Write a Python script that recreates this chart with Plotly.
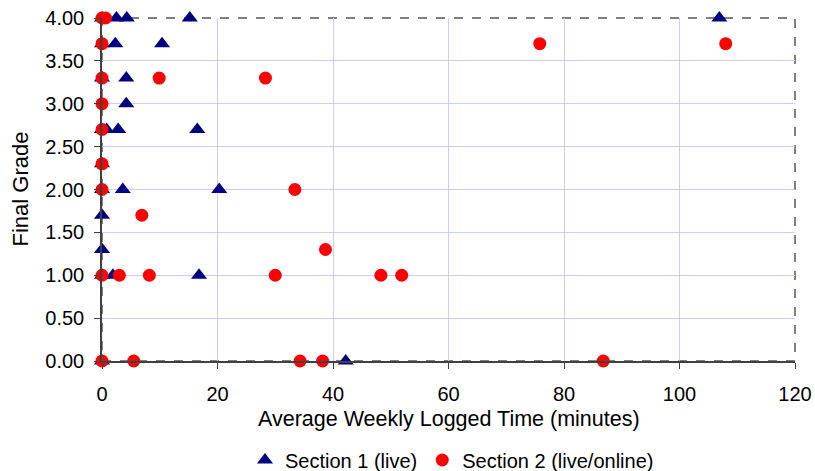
import plotly.graph_objects as go

# Section 1 (live)
s1_time = [0, 2.5, 4.3, 15.2, 106.9,
           0, 2.3, 10.4,
           0, 4.2,
           4.2,
           0, 0.8, 2.8, 16.5,
           0,
           0, 3.6, 20.3,
           0,
           0,
           0, 1.9, 16.8,
           0, 42.2]
s1_grade = [4.0, 4.0, 4.0, 4.0, 4.0,
            3.7, 3.7, 3.7,
            3.3, 3.3,
            3.0,
            2.7, 2.7, 2.7, 2.7,
            2.3,
            2.0, 2.0, 2.0,
            1.7,
            1.3,
            1.0, 1.0, 1.0,
            0.0, 0.0]

# Section 2 (live/online)
s2_time = [0, 0.6, 0, 75.8, 108.0, 0, 9.9, 28.3, 0, 0, 0, 0, 33.4, 6.9, 38.7,
           0, 3.0, 8.2, 30.0, 48.3, 51.9, 0, 5.5, 34.3, 38.2, 86.8]
s2_grade = [4.0, 4.0, 3.7, 3.7, 3.7, 3.3, 3.3, 3.3, 3.0, 2.7, 2.3, 2.0, 2.0, 1.7, 1.3,
            1.0, 1.0, 1.0, 1.0, 1.0, 1.0, 0.0, 0.0, 0.0, 0.0, 0.0]

x_ticks = [0, 20, 40, 60, 80, 100, 120]
y_ticks = [0, 0.5, 1.0, 1.5, 2.0, 2.5, 3.0, 3.5, 4.0]

x_title = "Average Weekly Logged Time (minutes)"
y_title = "Final Grade"

font = "Liberation Sans, Arial, sans-serif"

fig = go.Figure()
fig.add_trace(go.Scatter(
    x=s1_time, y=s1_grade, mode="markers", name="Section 1 (live)",
    marker=dict(symbol="triangle-up", size=14, color="#000080", line=dict(width=0)),
    cliponaxis=False))
fig.add_trace(go.Scatter(
    x=s2_time, y=s2_grade, mode="markers", name="Section 2 (live/online)",
    marker=dict(symbol="circle", size=13, color="#ff0000", line=dict(width=0)),
    cliponaxis=False))

fig.add_shape(type="rect", xref="paper", yref="paper", x0=0, y0=0, x1=1, y1=1,
              line=dict(color="#808080", width=2, dash="dash"), layer="below")

# axis titles placed as annotations for precise positioning
fig.add_annotation(text=x_title, xref="paper", yref="paper", x=0.5, y=-58 / 343,
                   xanchor="center", yanchor="middle", showarrow=False,
                   font=dict(size=21.5))
fig.add_annotation(text=y_title, xref="paper", yref="paper", x=-82 / 693, y=0.5,
                   xanchor="center", yanchor="middle", showarrow=False,
                   textangle=-90, font=dict(size=22))

fig.update_layout(
    width=815, height=471,
    margin=dict(l=102, r=20, t=18, b=110, autoexpand=False),
    plot_bgcolor="white", paper_bgcolor="white",
    font=dict(family=font, size=20, color="black"),
    showlegend=True,
    legend=dict(orientation="h", x=0.505, xanchor="center",
                yref="container", y=11 / 471, yanchor="middle",
                font=dict(size=20), itemwidth=30, tracegroupgap=0),
)
fig.update_xaxes(
    range=[0, 120], tickvals=x_ticks, ticktext=[str(v) for v in x_ticks],
    showgrid=True, gridcolor="#ccccff", gridwidth=1,
    showline=True, linecolor="#404040", linewidth=1.5,
    ticks="outside", ticklen=6, tickcolor="#404040",
    ticklabelstandoff=8,
    zeroline=False, automargin=False, tickfont=dict(size=20),
)
fig.update_yaxes(
    range=[0, 4], tickvals=y_ticks, ticktext=[f"{v:.2f}" for v in y_ticks],
    showgrid=True, gridcolor="#ccccff", gridwidth=1,
    showline=True, linecolor="#404040", linewidth=1.5,
    ticks="outside", ticklen=6, tickcolor="#404040",
    ticklabelstandoff=6,
    zeroline=False, automargin=False, tickfont=dict(size=20),
)

fig.write_html("out.html")
